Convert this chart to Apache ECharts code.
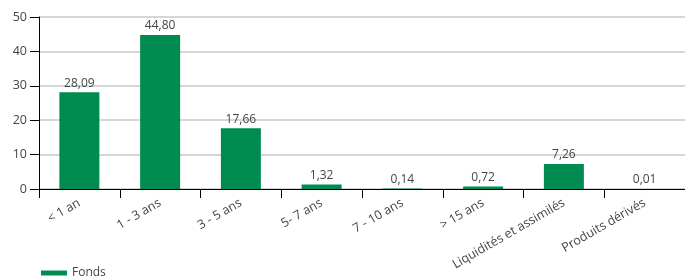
<!DOCTYPE html>
<html lang="fr">
<head>
    <meta charset="UTF-8">
    <title>Fonds</title>
    <style>
        body { margin: 0; background: #fff; }
        #main { width: 685px; height: 278px; }
    </style>
</head>
<body>
    <div id="main"></div>
    <script src="https://cdn.jsdelivr.net/npm/echarts@6/dist/echarts.min.js"></script>
    <script>
        // categories et valeurs
        var categories = ['< 1 an', '1 - 3 ans', '3 - 5 ans', '5- 7 ans', '7 - 10 ans', '> 15 ans', 'Liquidités et assimilés', 'Produits dérivés'];
        var fonds = [28.09, 44.80, 17.66, 1.32, 0.14, 0.72, 7.26, 0.01];
        var yTicks = [0, 10, 20, 30, 40, 50];

        var myChart = echarts.init(document.getElementById('main'));
        var txt = '#444';
        var option = {
            animation: false,
            textStyle: { fontFamily: 'Open Sans' },
            grid: { left: 39, right: 0, top: 17, bottom: 89 },
            legend: {
                left: 36, top: 262,
                itemWidth: 26, itemHeight: 5, itemGap: 8,
                icon: 'rect',
                textStyle: { color: txt, fontSize: 12, fontFamily: 'Open Sans' },
                data: ['Fonds']
            },
            xAxis: {
                type: 'category',
                data: categories,
                axisLine: { lineStyle: { color: '#000', width: 1 } },
                axisTick: { show: true, length: 9, lineStyle: { color: '#000' } },
                axisLabel: { rotate: 30, color: txt, fontSize: 12.5, margin: 13, interval: 0 }
            },
            yAxis: {
                type: 'value',
                min: yTicks[0], max: yTicks[yTicks.length - 1], interval: 10,
                axisLine: { show: true, lineStyle: { color: '#000' } },
                axisTick: { show: true, length: 9, lineStyle: { color: '#000' } },
                axisLabel: { color: txt, fontSize: 12.5, margin: 12 },
                splitLine: { lineStyle: { color: '#c8c8c8', width: 1.5 } }
            },
            series: [{
                name: 'Fonds',
                type: 'bar',
                barWidth: 40,
                data: fonds,
                itemStyle: { color: '#008C50' },
                label: {
                    show: true, position: 'top', distance: 3,
                    color: txt, fontSize: 12,
                    formatter: function (p) { return p.value.toFixed(2).replace('.', ','); }
                }
            }]
        };
        myChart.setOption(option);
    </script>
</body>
</html>
